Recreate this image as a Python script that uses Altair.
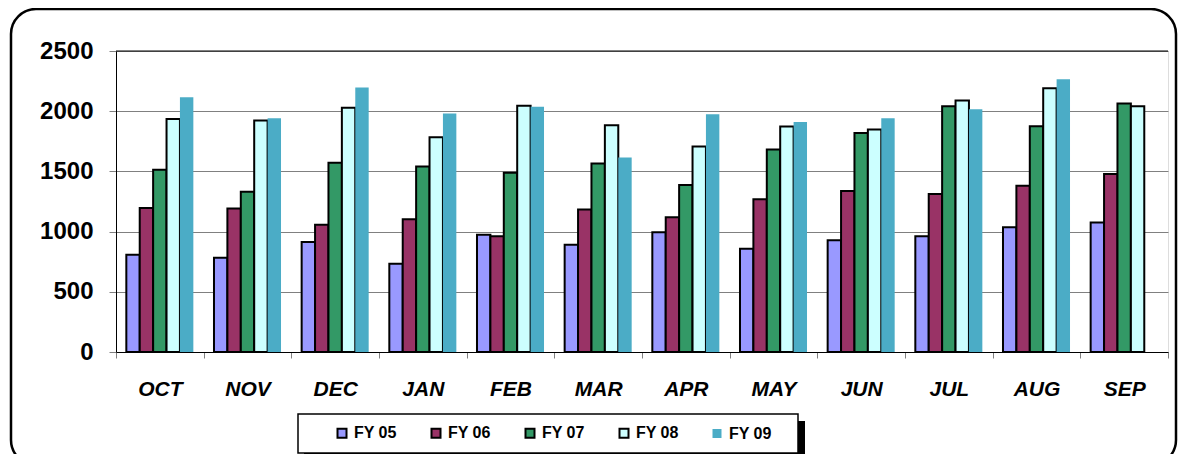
import altair as alt
import pandas as pd

months = ["OCT", "NOV", "DEC", "JAN", "FEB", "MAR", "APR", "MAY", "JUN", "JUL", "AUG", "SEP"]
series = ["FY 05", "FY 06", "FY 07", "FY 08", "FY 09"]
fy05 = [808, 783, 913, 733, 973, 890, 995, 857, 928, 961, 1036, 1075]
fy06 = [1197, 1191, 1056, 1103, 962, 1183, 1119, 1268, 1337, 1312, 1381, 1478]
fy07 = [1514, 1332, 1571, 1541, 1489, 1566, 1387, 1682, 1818, 2041, 1876, 2063]
fy08 = [1935, 1922, 2029, 1784, 2046, 1883, 1707, 1872, 1848, 2088, 2190, 2041]
fy09 = [2115, 1941, 2197, 1980, 2037, 1616, 1974, 1911, 1942, 2016, 2265, None]
colors = ["#9999FF", "#993366", "#339966", "#CCFFFF", "#4BACC6"]
y_ticks = [0, 500, 1000, 1500, 2000, 2500]

rows = []
for name, vals in zip(series, [fy05, fy06, fy07, fy08, fy09]):
    for m, v in zip(months, vals):
        if v is not None:
            rows.append({"month": m, "series": name, "value": v})
df = pd.DataFrame(rows)
one = pd.DataFrame({"k": [0]})

FONT = "Liberation Sans"

# decorations (outer rounded frame, legend box with shadow)
frame = alt.Chart(one).mark_rect(fill="transparent", stroke="black", strokeWidth=2.5, cornerRadius=25).encode(
    x=alt.value(-105), x2=alt.value(1060), y=alt.value(-42), y2=alt.value(414))
leg_shadow = alt.Chart(one).mark_rect(fill="black").encode(
    x=alt.value(188), x2=alt.value(689), y=alt.value(370), y2=alt.value(410))
leg_box = alt.Chart(one).mark_rect(fill="white", stroke="black", strokeWidth=1.5).encode(
    x=alt.value(182), x2=alt.value(682), y=alt.value(363), y2=alt.value(402))

leg = dict(title=None, orient="none", legendX=218, legendY=374,
           direction="horizontal", symbolType="square",
           symbolSize=81, symbolStrokeColor="black",
           labelFont=FONT, labelFontSize=16, labelFontWeight="bold",
           labelColor="black", labelOffset=4, columnPadding=30, padding=0)

bars = alt.Chart(df).mark_bar(strokeJoin="miter").encode(
    x=alt.X("month:N", sort=months,
            scale=alt.Scale(paddingInner=0, paddingOuter=0),
            axis=alt.Axis(title=None, labelAngle=0, tickBand="extent", grid=False,
                          labelFont=FONT, labelFontSize=21, labelFontWeight="bold",
                          labelFontStyle="italic", labelColor="black",
                          labelPadding=20, tickSize=6, tickColor="#808080",
                          domainColor="black", domainWidth=1)),
    xOffset=alt.XOffset("series:N", sort=series,
                        scale=alt.Scale(domain=series, paddingInner=0, paddingOuter=0.77)),
    y=alt.Y("value:Q", scale=alt.Scale(domain=[0, 2500], nice=False),
            axis=alt.Axis(title=None, values=y_ticks, format="d", grid=True,
                          gridColor="#808080", gridWidth=1, labelFont=FONT,
                          labelFontSize=24, labelFontWeight="bold", labelColor="black",
                          labelPadding=16, tickSize=7, tickColor="#808080",
                          domainColor="black", domainWidth=1)),
    fill=alt.Fill("series:N", sort=series,
                  scale=alt.Scale(domain=series, range=colors),
                  legend=alt.Legend(**leg)),
    stroke=alt.Stroke("series:N", sort=series,
                      scale=alt.Scale(domain=series, range=["black"] * 5),
                      legend=alt.Legend(**leg)),
    strokeWidth=alt.StrokeWidth("series:N", sort=series,
                                scale=alt.Scale(type="ordinal", domain=series, range=[2, 2, 2, 2, 0]),
                                legend=alt.Legend(**leg)),
)

top_rule = alt.Chart(one).mark_rule(color="black", strokeWidth=1).encode(y=alt.datum(2500))

chart = alt.layer(frame, leg_shadow, leg_box, bars, top_rule).properties(
    width=1052, height=301,
    autosize=alt.AutoSizeParams(type="none"),
    padding={"left": 108, "top": 43, "right": 10, "bottom": 102},
).configure_view(stroke="#808080", strokeWidth=1).configure(background="white")

chart.save("out.html", embed_options={"renderer": "svg", "actions": False})
